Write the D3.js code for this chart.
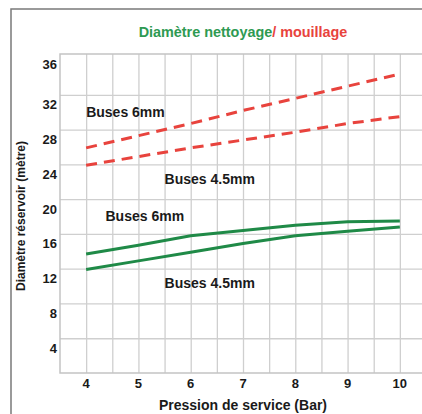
<!DOCTYPE html>
<html>
<head>
<meta charset="utf-8">
<script src="https://cdn.jsdelivr.net/npm/d3@7"></script>
<style>
  html, body { margin: 0; padding: 0; background: #fff; }
  svg { display: block; font-family: "Liberation Sans", Arial, Helvetica, sans-serif; }
</style>
</head>
<body>
<svg id="chart" width="422" height="414"></svg>
<script>
// ---- data ----
const pressures = [4, 5, 6, 7, 8, 9, 10];
const mouillage6mm = [25.9, 27.3, 28.7, 30.2, 31.6, 33.0, 34.4];
const mouillage45mm = [23.9, 24.9, 25.9, 26.8, 27.7, 28.7, 29.5];
const nettoyage6mm = [13.7, 14.7, 15.8, 16.4, 17.0, 17.4, 17.5];
const nettoyage45mm = [11.9, 12.9, 13.9, 14.9, 15.8, 16.3, 16.8];
const yTickLabels = [4, 8, 12, 16, 20, 24, 28, 32, 36];
const xTickLabels = [4, 5, 6, 7, 8, 9, 10];
const xGrid = d3.range(4, 10.01, 0.5);
const yGrid = [4, 8, 12, 16, 20, 24, 28, 32];
const annotations = [
  { text: "Buses 6mm", x: 4.0, y: 30.0 },
  { text: "Buses 4.5mm", x: 5.5, y: 22.3 },
  { text: "Buses 6mm", x: 4.37, y: 18.1 },
  { text: "Buses 4.5mm", x: 5.5, y: 10.3 }
];

(function () {
const svg = d3.select("#chart");
const W = 422, H = 414;
svg.append("rect").attr("width", W).attr("height", H).attr("fill", "#fff");

// outer frame
svg.append("rect")
  .attr("x", 11).attr("y", 9).attr("width", W + 10).attr("height", H + 10)
  .attr("fill", "none").attr("stroke", "#7a7a7a").attr("stroke-width", 1.5);

const pL = 60, pT = 54, pB = 373, pR = 426;
const x = d3.scaleLinear().domain([3.5, 10.5]).range([pL, pR]);
const y = d3.scaleLinear().domain([0, 36.7]).range([pB, pT]);

const gridColor = "#cfcfcf";

// vertical gridlines
svg.append("g")
  .attr("transform", `translate(0,${pB})`)
  .call(d3.axisBottom(x).tickValues(xGrid).tickSize(-(pB - pT)).tickFormat(""))
  .call(g => g.select(".domain").remove())
  .call(g => g.selectAll("line").attr("stroke", gridColor).attr("stroke-width", 1.3));

// horizontal gridlines
svg.append("g")
  .attr("transform", `translate(${pL},0)`)
  .call(d3.axisLeft(y).tickValues(yGrid).tickSize(-(pR - pL)).tickFormat(""))
  .call(g => g.select(".domain").remove())
  .call(g => g.selectAll("line").attr("stroke", gridColor).attr("stroke-width", 1.3));

// plot border (left, top, bottom)
svg.append("path")
  .attr("d", `M${pR},${pT}H${pL}V${pB}H${pR}`)
  .attr("fill", "none").attr("stroke", "#c4c4c4").attr("stroke-width", 1.5);

// y tick labels (sit slightly below their gridlines, as in the original)
svg.append("g").selectAll("text")
  .data(yTickLabels).join("text")
  .attr("x", 57)
  .attr("y", d => d === 36 ? y(d) + 4 : y(d) + 10)
  .attr("text-anchor", "end").attr("dominant-baseline", "central")
  .attr("font-size", 13).attr("font-weight", "bold").attr("fill", "#1a1a1a")
  .text(d => d);

// x tick labels
svg.append("g").selectAll("text")
  .data(xTickLabels).join("text")
  .attr("x", d => x(d)).attr("y", 383)
  .attr("text-anchor", "middle").attr("dominant-baseline", "central")
  .attr("font-size", 13).attr("font-weight", "bold").attr("fill", "#1a1a1a")
  .text(d => d);

// axis titles
svg.append("text")
  .attr("x", 243).attr("y", 405)
  .attr("text-anchor", "middle").attr("dominant-baseline", "central")
  .attr("font-size", 14).attr("font-weight", "bold").attr("fill", "#1a1a1a")
  .text("Pression de service (Bar)");

svg.append("text")
  .attr("transform", "translate(21,216) rotate(-90)")
  .attr("text-anchor", "middle").attr("dominant-baseline", "central")
  .attr("font-size", 12).attr("font-weight", "bold").attr("fill", "#1a1a1a")
  .text("Diamètre réservoir (mètre)");

// title
const title = svg.append("text")
  .attr("x", 243).attr("y", 32)
  .attr("text-anchor", "middle").attr("dominant-baseline", "central")
  .attr("font-size", 14.4).attr("font-weight", "bold");
title.append("tspan").attr("fill", "#2e9a52").text("Diamètre nettoyage");
title.append("tspan").attr("fill", "#e8433d").text("/ mouillage");

// lines
const line = d3.line().x(d => x(d[0])).y(d => y(d[1]));
const series = [
  { vals: mouillage6mm, color: "#e8433d", dash: "11,7" },
  { vals: mouillage45mm, color: "#e8433d", dash: "11,7" },
  { vals: nettoyage6mm, color: "#1f8a47", dash: null },
  { vals: nettoyage45mm, color: "#1f8a47", dash: null }
];
series.forEach(s => {
  svg.append("path")
    .datum(pressures.map((p, i) => [p, s.vals[i]]))
    .attr("d", line)
    .attr("fill", "none")
    .attr("stroke", s.color)
    .attr("stroke-width", 3)
    .attr("stroke-dasharray", s.dash)
    .attr("stroke-linecap", "butt");
});

// annotations
svg.append("g").selectAll("text")
  .data(annotations).join("text")
  .attr("x", d => x(d.x)).attr("y", d => y(d.y))
  .attr("dominant-baseline", "central")
  .attr("font-size", 14).attr("font-weight", "bold").attr("fill", "#1a1a1a")
  .text(d => d.text);
})();
</script>
</body>
</html>
